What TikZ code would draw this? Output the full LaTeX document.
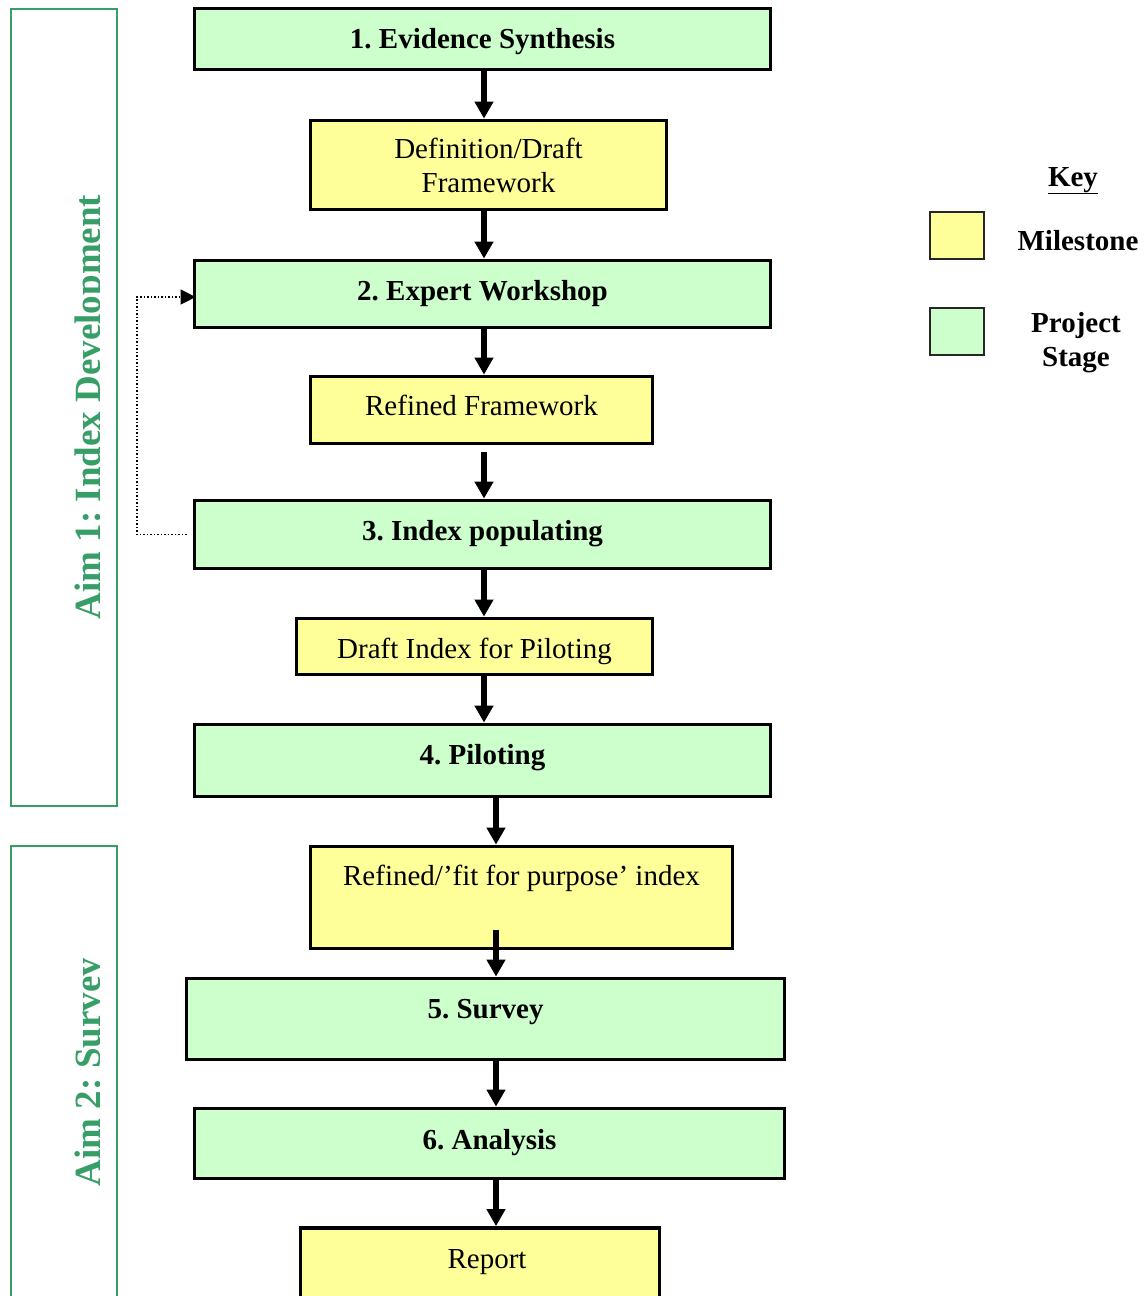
\documentclass[tikz,border=0pt]{standalone}
\usepackage{fontspec}
\setmainfont{Liberation Serif}
\usetikzlibrary{arrows.meta}
\definecolor{stagegreen}{HTML}{CCFFCC}
\definecolor{mileyellow}{HTML}{FFFF99}
\definecolor{aimgreen}{RGB}{56,158,104}
\frenchspacing
\begin{document}
\begin{tikzpicture}[x=1pt,y=-1pt,
 box/.style={draw=black,line width=3.8pt,inner sep=0pt,rectangle},
 stagebox/.style={box,fill=stagegreen},
 milebox/.style={box,fill=mileyellow},
 lbl/.style={anchor=base,font=\fontsize{29}{34}\selectfont,inner sep=0pt,align=center},
 blbl/.style={lbl,font=\fontsize{29}{34}\selectfont\bfseries},
 flow/.style={line width=5.5pt,-{Triangle[length=17pt,width=18pt]}},
 aimbox/.style={draw=aimgreen,line width=2.8pt},
 aimlbl/.style={anchor=base,rotate=90,text=aimgreen,font=\fontsize{37}{40}\selectfont\bfseries,inner sep=0pt},
 keybox/.style={draw=black!85,line width=2pt,minimum width=54pt,minimum height=47pt,inner sep=0pt}
]
\useasboundingbox (0,0) rectangle (1147,1296);
\clip (0,0) rectangle (1147,1296);

% aim frames
\draw[aimbox] (11,9) rectangle (117,806);
\draw[aimbox] (11,846) rectangle (117,1320);
\begin{scope}
\clip (12,0) rectangle (99.5,1296);
\node[aimlbl] (aim1) at (100,407) {Aim 1: Index Development};
\node[aimlbl] (aim2) at (100,1072) {Aim 2: Survey};
\end{scope}

% boxes
\node[stagebox,minimum width=576pt,minimum height=61pt] (ev) at (482.5,39) {};
\node[milebox,minimum width=356pt,minimum height=89pt] (def) at (488.5,165) {};
\node[stagebox,minimum width=576pt,minimum height=67pt] (ew) at (482.5,294) {};
\node[milebox,minimum width=342pt,minimum height=67pt] (rf) at (481.5,410) {};
\node[stagebox,minimum width=576pt,minimum height=68pt] (ip) at (482.5,534.5) {};
\node[milebox,minimum width=356pt,minimum height=56pt] (di) at (474.5,646.5) {};
\node[stagebox,minimum width=576pt,minimum height=72pt] (pil) at (482.5,760.5) {};
\node[milebox,minimum width=422pt,minimum height=102pt] (rfp) at (521.5,897.5) {};
\node[stagebox,minimum width=598pt,minimum height=81pt] (sur) at (485.5,1019) {};
\node[stagebox,minimum width=590pt,minimum height=70pt] (ana) at (489.5,1143.5) {};
\node[milebox,minimum width=359pt,minimum height=100pt] (rep) at (480,1278) {};

% labels
\node[blbl] (evt) at (482.5,48) {1. Evidence Synthesis};
\node[lbl] (deft) at (488.5,192) {Definition/Draft\\Framework};
\node[blbl] (ewt) at (482.5,300) {2. Expert Workshop};
\node[lbl] (rft) at (481.5,415) {Refined Framework};
\node[blbl] (ipt) at (482.5,540) {3. Index populating};
\node[lbl] (dit) at (474.5,658) {Draft Index for Piloting};
\node[blbl] (pilt) at (482.5,764) {4. Piloting};
\node[lbl] (rfpt) at (521.5,885) {Refined/’fit for purpose’ index};
\node[blbl] (surt) at (485.5,1018) {5. Survey};
\node[blbl] (anat) at (489.5,1149) {6. Analysis};
\node[lbl] (rept) at (487,1268) {Report};

% arrows
\coordinate (xa) at (484,0);
\coordinate (xb) at (496,0);
\draw[flow] (xa |- ev.south) -- (xa |- def.north);
\draw[flow] (xa |- def.south) -- (xa |- ew.north);
\draw[flow] (xa |- ew.south) -- (xa |- rf.north);
\draw[flow] ([yshift=-7pt]xa |- rf.south) -- (xa |- ip.north);
\draw[flow] (xa |- ip.south) -- (xa |- di.north);
\draw[flow] (xa |- di.south) -- (xa |- pil.north);
\draw[flow] (xb |- pil.south) -- (xb |- rfp.north);
\draw[flow] ([yshift=20pt]xb |- rfp.south) -- (xb |- sur.north);
\draw[flow] (xb |- sur.south) -- (xb |- ana.north);
\draw[flow] (xb |- ana.south) -- (xb |- rep.north);

% dotted feedback
\draw[dotted,line width=1.5pt,-{Triangle[length=15pt,width=15pt]},shorten >=-3pt]
  ([xshift=-6pt]ip.west) -| (137,297) -- ([yshift=-3pt]ew.west);

% key
\node[anchor=base,font=\fontsize{29}{34}\selectfont\bfseries,inner sep=0pt] (key) at (1073,186) {\underline{Key}};
\node[keybox,fill=mileyellow] (kmile) at (956.5,235) {};
\node[keybox,fill=stagegreen] (kstage) at (956.5,331) {};
\node[blbl] (kmilet) at (1078,250) {Milestone};
\node[blbl] (kstaget) at (1076,366) {Project\\Stage};
\end{tikzpicture}
\end{document}
